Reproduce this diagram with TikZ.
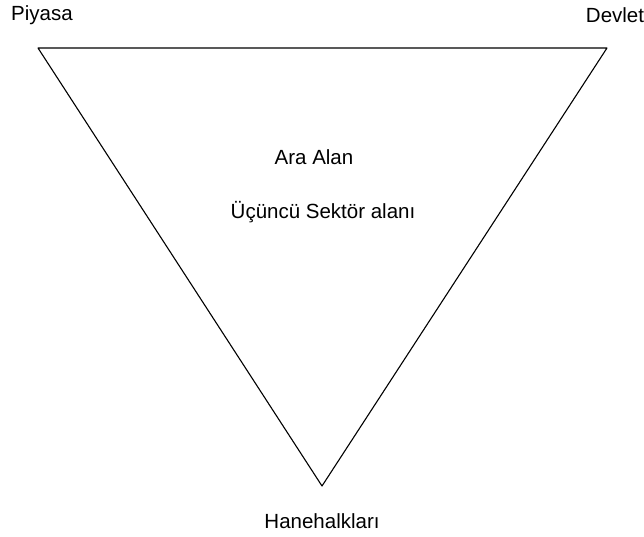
\documentclass[tikz,border=0pt]{standalone}
\usepackage{fontspec}
\setmainfont{Liberation Sans}
\usepackage{tikz}
\usetikzlibrary{positioning}
\tikzset{
  lbl/.style={inner sep=0pt, font=\fontsize{20.5}{24}\selectfont},
  edge/.style={line width=1.1pt},
  every picture/.style={line cap=round, line join=round}
}
\begin{document}
\begin{tikzpicture}[x=1pt,y=-1pt]
    \useasboundingbox (0,0) rectangle (644,536);

    \coordinate (piy) at (38,48);
    \coordinate (dev) at (607,48);
    \coordinate (hane) at (322,486);

    \node[lbl] (lpiy) at (42,15) {Piyasa};
    \node[lbl] (ldev) at (615,15) {Devlet};
    \node[lbl] (lara) at (314,157) {Ara Alan};
    \node[lbl] (lsek) at (323,212) {Üçüncü Sektör alanı};
    \node[lbl] (lhane) at (322,521) {Hanehalkları};

    \draw[edge] (piy)--(dev)--(hane)--cycle;
  \end{tikzpicture}
\end{document}
